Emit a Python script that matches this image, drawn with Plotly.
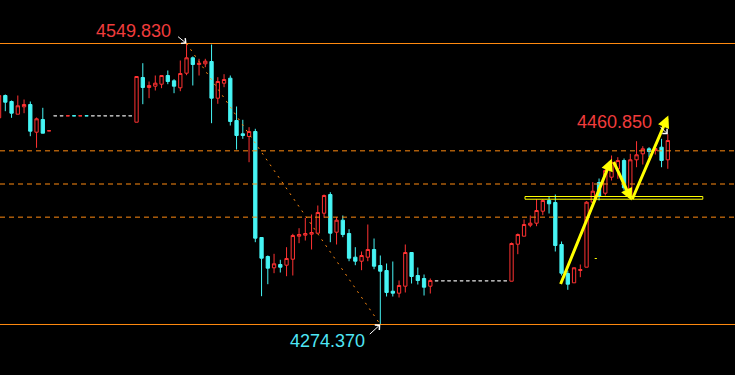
import plotly.graph_objects as go

# ---------------- data ----------------
x_idx = list(range(-1, 107))

opens = [
    4476.99,
    4498.85, 4492.97, 4480.52, 4487.78, 4490.03, 4462.88, 4475.33, 4464.24, 4478.95, 4478.95,
    4478.94, 4478.95, 4478.94, 4478.95, 4478.95, 4478.95, 4478.95, 4478.95, 4478.95, 4478.95,
    4478.95, 4472.68, 4516.50, 4506.69, 4507.97, 4509.93, 4518.46, 4513.26, 4506.40, 4520.71,
    4535.81, 4529.24, 4529.93, 4532.18, 4496.21, 4510.91, 4515.81, 4474.35, 4461.31, 4458.66,
    4463.56, 4359.65, 4341.03, 4329.95, 4333.18, 4332.50, 4338.38, 4360.93, 4361.91, 4362.89,
    4363.87, 4383.47, 4401.80, 4364.85, 4376.61, 4363.57, 4340.34, 4336.42, 4340.34, 4347.89,
    4332.20, 4327.30, 4307.01, 4305.05, 4311.91, 4344.95, 4322.40, 4319.46, 4311.91, 4317.20,
    4317.20, 4317.20, 4317.20, 4317.20, 4317.20, 4317.20, 4317.20, 4317.20, 4317.20, 4317.20,
    4317.20, 4316.81, 4353.08, 4360.93, 4371.71, 4373.67, 4385.43, 4395.92, 4393.96, 4352.79,
    4324.36, 4315.24, 4327.30, 4330.54, 4394.25, 4413.57, 4403.08, 4418.76, 4426.99, 4435.13,
    4399.84, 4435.82, 4441.70, 4446.60, 4444.94, 4448.17, 4435.82,
]
highs = [
    4498.85,
    4499.83, 4493.95, 4498.85, 4494.93, 4492.97, 4477.29, 4486.79, 4464.25, 4478.95, 4478.95,
    4478.95, 4478.95, 4478.95, 4478.95, 4478.95, 4478.95, 4478.95, 4478.95, 4478.95, 4478.95,
    4478.95, 4517.48, 4530.52, 4512.58, 4518.46, 4518.46, 4523.36, 4514.83, 4533.16, 4549.83,
    4537.08, 4534.83, 4534.83, 4548.85, 4516.79, 4519.73, 4518.46, 4488.07, 4475.03, 4467.78,
    4466.21, 4359.65, 4342.00, 4343.67, 4337.79, 4350.14, 4363.28, 4368.77, 4378.96, 4382.20,
    4391.02, 4401.80, 4404.06, 4379.55, 4381.22, 4367.79, 4350.14, 4345.93, 4372.39, 4358.67,
    4342.00, 4334.16, 4336.12, 4317.50, 4352.79, 4344.95, 4330.24, 4323.38, 4319.46, 4317.20,
    4317.20, 4317.20, 4317.20, 4317.20, 4317.20, 4317.20, 4317.20, 4317.20, 4317.20, 4317.20,
    4317.20, 4354.75, 4363.57, 4377.30, 4381.22, 4397.19, 4397.19, 4399.84, 4401.80, 4355.73,
    4327.30, 4330.24, 4333.18, 4395.23, 4413.87, 4417.49, 4428.56, 4440.03, 4438.37, 4437.09,
    4441.70, 4454.05, 4449.15, 4448.17, 4448.86, 4456.40, 4460.85,
]
lows = [
    4476.99,
    4483.46, 4476.99, 4480.52, 4481.50, 4458.95, 4447.58, 4461.90, 4464.24, 4478.95, 4478.95,
    4478.94, 4478.94, 4478.94, 4478.94, 4478.95, 4478.95, 4478.95, 4478.95, 4478.95, 4478.95,
    4478.95, 4472.68, 4490.32, 4496.21, 4503.75, 4506.01, 4509.93, 4501.11, 4503.07, 4518.75,
    4508.66, 4518.46, 4526.59, 4471.70, 4490.72, 4506.99, 4469.44, 4445.92, 4456.40, 4433.46,
    4355.04, 4302.11, 4313.87, 4324.65, 4325.34, 4321.71, 4322.40, 4354.06, 4356.70, 4347.89,
    4363.87, 4378.96, 4355.04, 4352.79, 4359.95, 4336.42, 4332.50, 4327.60, 4336.42, 4328.58,
    4274.37, 4301.81, 4301.81, 4300.83, 4305.74, 4314.56, 4313.58, 4302.79, 4304.75, 4317.20,
    4317.20, 4317.20, 4317.20, 4317.20, 4317.20, 4317.20, 4317.20, 4317.20, 4317.20, 4317.20,
    4317.20, 4316.81, 4343.28, 4360.93, 4369.75, 4370.73, 4381.51, 4383.18, 4345.93, 4322.40,
    4308.38, 4315.24, 4320.73, 4330.54, 4392.97, 4395.92, 4400.82, 4415.53, 4417.19, 4405.73,
    4397.88, 4428.56, 4431.21, 4438.37, 4441.01, 4428.56, 4426.99,
]
closes = [
    4498.85,
    4492.28, 4481.50, 4488.76, 4490.03, 4463.86, 4476.01, 4461.90, 4464.25, 4478.95, 4478.95,
    4478.95, 4478.94, 4478.95, 4478.94, 4478.95, 4478.95, 4478.95, 4478.95, 4478.95, 4478.95,
    4478.95, 4517.48, 4506.69, 4508.66, 4510.91, 4518.46, 4512.58, 4507.97, 4520.42, 4535.81,
    4529.24, 4530.52, 4532.48, 4496.21, 4512.58, 4514.54, 4473.37, 4459.64, 4459.64, 4463.56,
    4358.97, 4339.36, 4329.56, 4333.87, 4330.54, 4339.07, 4361.61, 4362.59, 4363.57, 4364.55,
    4384.16, 4400.82, 4363.87, 4376.61, 4362.59, 4339.36, 4336.42, 4342.00, 4347.89, 4331.52,
    4326.61, 4305.74, 4305.05, 4312.60, 4344.95, 4321.42, 4317.50, 4310.93, 4317.50, 4317.20,
    4317.20, 4317.20, 4317.20, 4317.20, 4317.20, 4317.20, 4317.20, 4317.20, 4317.20, 4317.20,
    4317.20, 4353.77, 4362.59, 4372.39, 4373.67, 4386.12, 4395.92, 4392.68, 4351.81, 4324.65,
    4313.87, 4329.95, 4328.28, 4394.25, 4405.04, 4399.84, 4425.33, 4433.46, 4435.13, 4408.37,
    4435.82, 4440.72, 4446.60, 4443.96, 4446.90, 4435.13, 4454.74,
]
# flat (no-trade) bars drawn in grey
gray_idx = [8, 9] + list(range(14, 21)) + list(range(69, 81))

swing_high_x, swing_high = 29, 4549.83
swing_low_x, swing_low = 60, 4274.37
fib_levels = [0.382, 0.5, 0.618]

# hand-drawn yellow box and arrows (index, price)
box_x = [83.15, 111.6]
box_y = [4397.19, 4399.84]
arrows = [  # (tail_x, tail_y, head_x, head_y)
    (88.75, 4312.60, 97.02, 4436.80),
    (97.23, 4435.13, 100.22, 4395.92),
    (100.22, 4395.92, 106.08, 4479.25),
]
tick_mark = (94.3, 94.65, 4339.07)

labels = [  # text, x, y, color
    ("4549.830", 20.48, 4562.28, "#F03C3C"),
    ("4460.850", 97.47, 4472.68, "#F03C3C"),
    ("4274.370", 51.55, 4258.68, "#4FE6F5"),
]
pointers = [  # x, y, ax, ay (px)
    (29, 4549.83, -10, -8),
    (106, 4460.85, -9, -9),
    (60, 4274.37, -12, 11),
]

# ---------------- style ----------------
BG = "#000000"
RED = "#FF3232"
CYAN = "#46F5F5"
ORANGE = "#FF8A10"
GRAY = "#B4B4B4"
YELLOW = "#FFFF00"

fig = go.Figure()

main = [k for k, x in enumerate(x_idx) if x not in gray_idx]
flat = [k for k, x in enumerate(x_idx) if x in gray_idx]

fig.add_trace(go.Candlestick(
    x=[x_idx[k] for k in main],
    open=[opens[k] for k in main], high=[highs[k] for k in main],
    low=[lows[k] for k in main], close=[closes[k] for k in main],
    increasing=dict(line=dict(color=RED, width=1), fillcolor=BG),
    decreasing=dict(line=dict(color=CYAN, width=1), fillcolor=CYAN),
    whiskerwidth=0, hoverinfo="skip",
))
fig.add_trace(go.Candlestick(
    x=[x_idx[k] for k in flat],
    open=[opens[k] for k in flat], high=[highs[k] for k in flat],
    low=[lows[k] for k in flat], close=[closes[k] for k in flat],
    increasing=dict(line=dict(color=GRAY, width=1), fillcolor=GRAY),
    decreasing=dict(line=dict(color=GRAY, width=1), fillcolor=GRAY),
    whiskerwidth=0, hoverinfo="skip",
))

# trend line of fib tool
fig.add_trace(go.Scatter(
    x=[swing_high_x, swing_low_x], y=[swing_high, swing_low], mode="lines",
    line=dict(color=ORANGE, width=1, dash="2px,5px"), hoverinfo="skip",
))

shapes = []
for v in (swing_high, swing_low):
    shapes.append(dict(type="line", xref="paper", x0=0, x1=1, y0=v, y1=v,
                       line=dict(color=ORANGE, width=1)))
for f in fib_levels:
    v = swing_high - f * (swing_high - swing_low)
    shapes.append(dict(type="line", xref="paper", x0=0, x1=1, y0=v, y1=v,
                       line=dict(color=ORANGE, width=1, dash="5px,4px")))
shapes.append(dict(type="rect", x0=box_x[0], x1=box_x[1], y0=box_y[0], y1=box_y[1],
                   line=dict(color=YELLOW, width=1)))
shapes.append(dict(type="line", x0=tick_mark[0], x1=tick_mark[1], y0=tick_mark[2],
                   y1=tick_mark[2], line=dict(color=YELLOW, width=1)))

annotations = []
for tx, ty, hx, hy in arrows:
    annotations.append(dict(x=hx, y=hy, ax=tx, ay=ty, axref="x", ayref="y",
                            text="", showarrow=True, arrowhead=2, arrowsize=0.8,
                            arrowwidth=3, arrowcolor=YELLOW, standoff=0))
for text, lx, ly, col in labels:
    annotations.append(dict(x=lx, y=ly, text=text, showarrow=False,
                            xanchor="center", yanchor="middle",
                            font=dict(family="Liberation Sans, Arial", size=18, color=col)))
for px, py, ax, ay in pointers:
    annotations.append(dict(x=px, y=py, ax=ax, ay=ay, text="", showarrow=True,
                            arrowhead=4, arrowsize=1.3, arrowwidth=1,
                            arrowcolor="#FFFFFF", standoff=0))

fig.update_layout(
    width=735, height=375,
    margin=dict(l=0, r=0, t=0, b=0),
    paper_bgcolor=BG, plot_bgcolor=BG,
    showlegend=False, hovermode=False,
    boxgap=0.25,
    shapes=shapes, annotations=annotations,
    xaxis=dict(range=[-0.85, 116.75], visible=False, rangeslider=dict(visible=False),
               showgrid=False, zeroline=False, fixedrange=True),
    yaxis=dict(range=[4224.86, 4592.47], visible=False, showgrid=False,
               zeroline=False, fixedrange=True),
)

fig.write_html("out.html")
